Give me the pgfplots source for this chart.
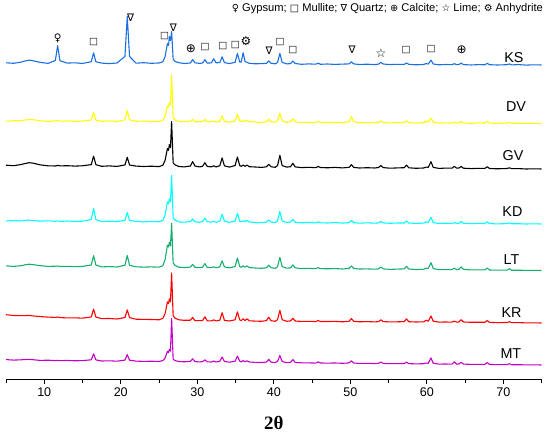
\documentclass[border=0pt]{standalone}
\usepackage{pgfplots}
\pgfplotsset{compat=1.18}
\usepackage{pgfplotstable}
\usepackage{fontspec}
\setmainfont{Liberation Sans}
\newfontfamily\sym{DejaVu Sans}
\newfontfamily\serif{Liberation Serif}
\definecolor{ksblue}{RGB}{25,110,228}
\definecolor{dvyellow}{RGB}{255,255,0}
\definecolor{gvblack}{RGB}{0,0,0}
\definecolor{kdcyan}{RGB}{0,255,255}
\definecolor{ltgreen}{RGB}{20,175,110}
\definecolor{krred}{RGB}{255,0,0}
\definecolor{mtmag}{RGB}{195,0,200}
\pgfplotstableread{
x KS DV GV KD LT KR MT
5.0 0.2 -0.2 0.3 0.0 0.2 0.3 0.4
6.0 -0.3 0.3 -0.2 0.4 -0.4 -0.5 -0.1
7.0 0.9 0.4 1.0 0.1 0.3 -0.6 0.2
7.5 2.0 1.0 2.0 0.6 1.2 -0.6 0.5
8.0 2.9 1.4 2.8 0.9 1.8 -0.4 0.6
8.5 2.3 1.3 2.4 0.5 1.4 -0.9 0.3
9.5 0.6 0.2 0.6 -0.1 0.3 -1.6 -0.4
10.5 -0.4 -0.3 -0.3 0.2 -0.4 -2.1 -0.2
11.45 2.5 0.1 -0.5 -0.3 -0.2 -2.4 -0.6
11.75 17.3 0.4 0.1 0.2 0.0 -2.0 -0.3
12.05 2.3 -0.2 -0.4 -0.4 -0.5 -2.6 -0.7
13 -0.1 0.1 -0.2 0.0 -0.3 -2.9 -0.4
14 0.2 -0.4 -0.6 -0.5 -0.7 -2.8 -0.8
15 -0.5 0.0 -0.3 -0.2 -0.4 -3.2 -0.6
16.15 1.3 1.0 0.9 1.5 1.0 -1.9 0.2
16.45 10.2 8.6 9.4 12.5 10.3 5.9 6.2
16.75 1.2 0.9 0.8 1.4 0.9 -2.1 0.1
17.5 -0.1 -0.3 -0.8 -0.6 -0.9 -3.6 -1.0
18.5 -0.6 0.1 -0.4 -0.2 -0.6 -3.5 -0.8
19.5 0.0 -0.5 -0.9 -0.7 -1.0 -4.0 -1.2
20.55 6.6 1.1 0.6 0.7 0.8 -2.5 -0.1
20.85 46.5 10.4 8.2 8.4 10.5 5.1 5.4
21.15 6.5 1.2 0.5 0.6 0.7 -2.6 -0.2
22 -0.2 -0.3 -0.6 -0.4 -0.8 -4.2 -1.1
23 0.3 0.0 -1.0 -0.9 -1.1 -4.4 -1.4
24 -0.3 -0.6 -0.7 -0.5 -0.9 -4.5 -1.2
25 0.0 -0.4 -1.1 -0.8 -1.2 -4.8 -1.5
25.5 1.2 0.6 0.2 0.6 0.3 -3.4 -0.6
25.8 6.5 4.9 5.2 6.1 6.5 1.4 2.0
26.1 19.4 15.2 17.0 19.2 20.8 13.1 8.6
26.25 17.5 13.8 15.2 17.2 19.0 11.4 7.4
26.35 26.4 18.2 21.0 22.0 23.8 16.2 10.6
26.5 22.5 15.8 17.8 19.0 20.2 13.2 8.8
26.65 31.4 46.2 44.0 45.6 42.7 42.0 41.5
26.85 4.0 3.2 2.6 3.0 3.0 -0.8 0.8
27.1 1.5 1.0 0.6 0.9 0.6 -3.2 -0.6
27.6 0.3 -0.5 -1.0 -0.9 -1.2 -4.8 -1.5
28.3 -0.5 -0.6 -1.4 -1.2 -1.5 -5.3 -1.8
29.1 0.0 -0.3 -0.5 -0.6 -1.1 -5.2 -1.4
29.4 3.4 1.6 3.9 2.0 1.6 -2.4 1.2
29.7 0.2 -0.8 -0.6 -0.8 -1.3 -5.6 -1.6
30.3 -0.4 -0.7 -1.4 -1.3 -1.7 -5.7 -1.9
30.7 0.0 -0.5 -0.8 -0.6 -1.2 -5.5 -1.6
31.0 3.3 1.5 2.8 3.0 2.4 -1.8 0.1
31.3 -0.1 -0.9 -0.9 -0.8 -1.4 -5.8 -1.8
31.85 0.1 -0.6 -1.4 -1.2 -1.6 -5.8 -2.0
32.15 4.3 0.0 -0.3 -0.3 -0.8 -4.9 -1.0
32.45 0.2 -1.0 -1.5 -1.3 -1.8 -5.9 -2.0
32.95 0.4 -0.2 -0.2 -0.2 -0.9 -5.2 -1.3
33.25 6.2 5.0 7.6 6.8 5.2 2.3 3.0
33.55 0.4 -0.4 -0.3 -0.2 -0.9 -5.3 -1.4
34.2 -0.6 -1.2 -1.6 -1.4 -1.9 -6.0 -2.2
34.95 0.7 0.1 0.0 -0.1 -0.5 -4.8 -1.2
35.25 9.6 6.8 8.5 7.7 8.1 3.2 3.9
35.55 0.9 0.0 0.0 -0.1 -0.5 -4.9 -1.2
35.75 1.0 -0.7 -0.9 -0.9 -1.3 -5.6 -1.8
36.0 10.2 0.3 0.5 0.2 0.1 -3.9 -0.6
36.25 1.3 -0.3 -0.8 -0.7 -1.1 -5.5 -1.7
36.5 0.7 0.8 0.4 0.6 0.1 -3.9 -0.8
36.8 -0.3 -0.6 -1.2 -1.0 -1.6 -5.8 -2.0
37.6 -0.8 -1.0 -1.5 -1.5 -2.0 -6.1 -2.4
38.4 -0.6 -1.4 -1.9 -1.7 -2.3 -6.3 -2.5
39.05 -0.4 -0.8 -1.3 -1.1 -1.8 -5.6 -2.0
39.35 2.1 1.7 1.2 1.0 0.8 -2.2 0.6
39.65 -0.3 -0.7 -1.3 -1.1 -1.8 -5.7 -2.1
40.2 -0.8 -1.2 -1.8 -1.6 -2.3 -6.3 -2.6
40.5 0.6 0.2 0.0 0.1 -0.6 -4.6 -1.4
40.8 9.5 7.8 10.2 9.5 8.7 4.7 4.5
41.1 0.6 0.1 -0.1 0.1 -0.6 -4.7 -1.5
41.7 -0.9 -1.4 -1.6 -1.5 -2.2 -6.3 -2.7
42.2 -0.6 -0.7 -1.2 -1.1 -1.9 -5.9 -2.4
42.5 2.0 2.1 2.2 1.5 1.1 -3.3 0.4
42.8 -0.5 -0.8 -1.4 -1.2 -1.9 -6.0 -2.4
43.6 -1.3 -1.5 -2.1 -1.8 -2.6 -6.4 -2.8
44.6 -0.9 -1.2 -1.8 -1.5 -2.4 -6.3 -2.9
45.5 -1.2 -1.6 -2.2 -1.9 -2.7 -6.6 -3.1
45.8 -0.2 -0.5 -1.0 -0.8 -1.6 -5.5 -1.9
46.1 -1.3 -1.3 -2.0 -1.8 -2.6 -6.5 -3.0
47 -1.0 -1.6 -2.3 -2.0 -2.8 -6.5 -3.1
48 -1.4 -1.2 -1.9 -1.6 -2.6 -6.4 -3.0
49 -1.1 -1.7 -2.4 -2.1 -3.0 -6.8 -3.3
49.85 -0.9 -0.7 -1.8 -1.6 -2.4 -6.3 -2.9
50.15 1.2 4.3 0.8 0.6 0.1 -3.6 -0.7
50.45 -0.9 -0.6 -1.9 -1.7 -2.5 -6.3 -3.0
51.2 -1.5 -1.8 -2.5 -2.2 -3.0 -6.8 -3.4
52.2 -1.2 -1.5 -2.2 -1.8 -2.9 -6.6 -3.3
53.2 -1.6 -1.9 -2.5 -2.2 -3.2 -6.9 -3.6
53.7 -1.1 -1.4 -2.0 -1.9 -2.9 -6.6 -3.3
54.0 0.6 0.2 0.0 -0.5 -1.0 -4.8 -2.0
54.3 -1.0 -1.5 -2.1 -1.9 -2.9 -6.6 -3.4
55.2 -1.6 -1.9 -2.7 -2.3 -3.4 -6.9 -3.7
56.2 -1.3 -1.6 -2.4 -2.0 -3.1 -6.8 -3.6
57.05 -1.4 -1.6 -2.2 -2.0 -2.9 -6.6 -3.5
57.35 0.0 0.1 0.4 0.0 -0.3 -3.9 -2.2
57.65 -1.3 -1.5 -2.3 -2.0 -3.0 -6.7 -3.6
58.6 -1.8 -2.1 -2.8 -2.4 -3.5 -7.0 -3.9
59.6 -1.5 -1.7 -2.5 -2.1 -3.3 -6.8 -3.7
59.9 -0.6 0.0 -1.6 -0.8 -2.1 -5.3 -3.0
60.2 -1.0 -1.2 -1.8 -1.5 -2.5 -6.2 -3.3
60.55 2.9 3.0 3.8 3.7 3.3 -1.0 2.0
60.85 -1.0 -1.2 -1.9 -1.6 -2.5 -6.2 -3.3
61.6 -1.8 -2.1 -2.9 -2.5 -3.7 -7.1 -4.1
62.5 -1.5 -1.8 -2.6 -2.2 -3.6 -7.0 -4.0
63.3 -1.7 -2.2 -2.7 -2.6 -3.7 -7.2 -4.2
63.6 -0.7 -1.1 -0.9 -1.5 -2.2 -6.1 -1.8
63.9 -1.6 -2.0 -2.6 -2.4 -3.6 -7.1 -4.1
64.2 -1.5 -1.9 -2.5 -2.3 -3.4 -7.0 -4.0
64.5 -0.2 -0.6 -1.0 -0.6 -0.9 -4.7 -2.3
64.8 -1.6 -2.0 -2.7 -2.3 -3.4 -7.0 -4.1
65.8 -2.0 -2.3 -3.1 -2.7 -3.9 -7.3 -4.4
66.8 -1.6 -1.9 -2.8 -2.4 -3.8 -7.2 -4.3
67.6 -1.8 -2.0 -2.9 -2.5 -3.9 -7.3 -4.4
67.9 -0.3 -0.3 -1.2 -0.7 -2.1 -5.5 -2.5
68.2 -1.7 -2.1 -3.0 -2.6 -4.0 -7.4 -4.5
69.2 -2.0 -2.4 -3.3 -2.9 -4.2 -7.6 -4.6
70.5 -1.7 -2.0 -3.0 -2.6 -4.1 -7.5 -4.6
70.8 -0.9 -1.3 -2.3 -1.9 -2.7 -6.7 -3.7
71.1 -1.9 -2.3 -3.2 -2.8 -4.3 -7.7 -4.8
72 -1.6 -2.2 -3.1 -2.7 -4.2 -7.6 -4.7
73 -2.1 -2.5 -3.5 -3.0 -4.4 -7.9 -4.9
74 -1.8 -2.3 -3.3 -2.8 -4.3 -7.8 -4.8
75 -2.0 -2.6 -3.5 -3.0 -4.5 -8.0 -5.0
}\xrd
\begin{document}
\begin{tikzpicture}
\useasboundingbox (-6bp,-55bp) rectangle (544bp,379bp);
\begin{axis}[
  scale only axis, width=535.5bp, height=379bp,
  xmin=5, xmax=75, ymin=0, ymax=379,
  axis x line=bottom, hide y axis,
  x axis line style={-, line width=0.8pt},
  xtick={10,20,...,70}, minor xtick={5,15,...,75},
  tick align=outside, major tick length=5bp, minor tick length=3.5bp,
  every tick/.style={black, line width=0.8pt},
  ticklabel style={font=\fontsize{12.6}{14}\selectfont},
  /pgf/number format/assume math mode=true,
  xlabel={\serif\bfseries 2θ},
  xlabel style={font=\fontsize{19}{21}\selectfont, at={(axis description cs:0.5,0)}, anchor=center, yshift=-44bp, inner sep=0pt},
  clip=false,
  every axis plot/.append style={line width=1.1pt, line join=round},
]
\addplot[ksblue] table[x=x, y expr=\thisrow{KS}+316] {\xrd};
\addplot[dvyellow] table[x=x, y expr=\thisrow{DV}+258] {\xrd};
\addplot[gvblack] table[x=x, y expr=\thisrow{GV}+213.5] {\xrd};
\addplot[kdcyan] table[x=x, y expr=\thisrow{KD}+158] {\xrd};
\addplot[ltgreen] table[x=x, y expr=\thisrow{LT}+113] {\xrd};
\addplot[krred] table[x=x, y expr=\thisrow{KR}+64] {\xrd};
\addplot[mtmag] table[x=x, y expr=\thisrow{MT}+19] {\xrd};
\begin{scope}[every node/.style={font=\fontsize{14.4}{16}\selectfont, inner sep=0pt}]
\node at (axis cs:71.4,321) {KS};
\node at (axis cs:71.67,272) {DV};
\node at (axis cs:71.27,223.5) {GV};
\node at (axis cs:71.2,167.5) {KD};
\node at (axis cs:71.08,119) {LT};
\node at (axis cs:71.08,66) {KR};
\node at (axis cs:71.0,25) {MT};
\end{scope}
\node[anchor=east, inner sep=0pt, font=\fontsize{11.2}{12}\selectfont] at (axis cs:75.2,370.5)
  {{\sym\fontsize{9.8}{10}\selectfont ♀} Gypsum; {\sym\fontsize{9.8}{10}\selectfont □} Mullite; {\sym\fontsize{9.8}{10}\selectfont ∇} Quartz; {\sym\fontsize{9.8}{10}\selectfont ⊕} Calcite; {\sym\fontsize{9.8}{10}\selectfont ☆} Lime; {\sym\fontsize{9.8}{10}\selectfont ⚙} Anhydrite};
\begin{scope}[every node/.style={font=\sym\fontsize{10.5}{11}\selectfont, inner sep=0pt}]
\node at (axis cs:11.77,341) {♀};
\node[font=\sym\fontsize{9.5}{10}\selectfont] at (axis cs:16.44,337) {□};
\node at (axis cs:21.29,361) {∇};
\node[font=\sym\fontsize{9.5}{10}\selectfont] at (axis cs:25.73,342.6) {□};
\node at (axis cs:26.88,351.7) {∇};
\node[font=\sym\fontsize{12}{12}\selectfont] at (axis cs:29.18,330) {⊕};
\node[font=\sym\fontsize{9.5}{10}\selectfont] at (axis cs:31.01,332.4) {□};
\node[font=\sym\fontsize{9.5}{10}\selectfont] at (axis cs:33.34,333.1) {□};
\node[font=\sym\fontsize{9.5}{10}\selectfont] at (axis cs:34.99,334.2) {□};
\node[font=\sym\fontsize{12}{12}\selectfont] at (axis cs:36.37,337.7) {⚙};
\node at (axis cs:39.38,328.2) {∇};
\node[font=\sym\fontsize{9.5}{10}\selectfont] at (axis cs:40.82,337) {□};
\node[font=\sym\fontsize{9.5}{10}\selectfont] at (axis cs:42.49,329.3) {□};
\node at (axis cs:50.23,329.3) {∇};
\node[font=\sym\fontsize{12}{12}\selectfont] at (axis cs:54.02,326) {☆};
\node[font=\sym\fontsize{9.5}{10}\selectfont] at (axis cs:57.29,329.3) {□};
\node[font=\sym\fontsize{9.5}{10}\selectfont] at (axis cs:60.56,330) {□};
\node[font=\sym\fontsize{12}{12}\selectfont] at (axis cs:64.56,329) {⊕};
\end{scope}
\end{axis}
\end{tikzpicture}
\end{document}
